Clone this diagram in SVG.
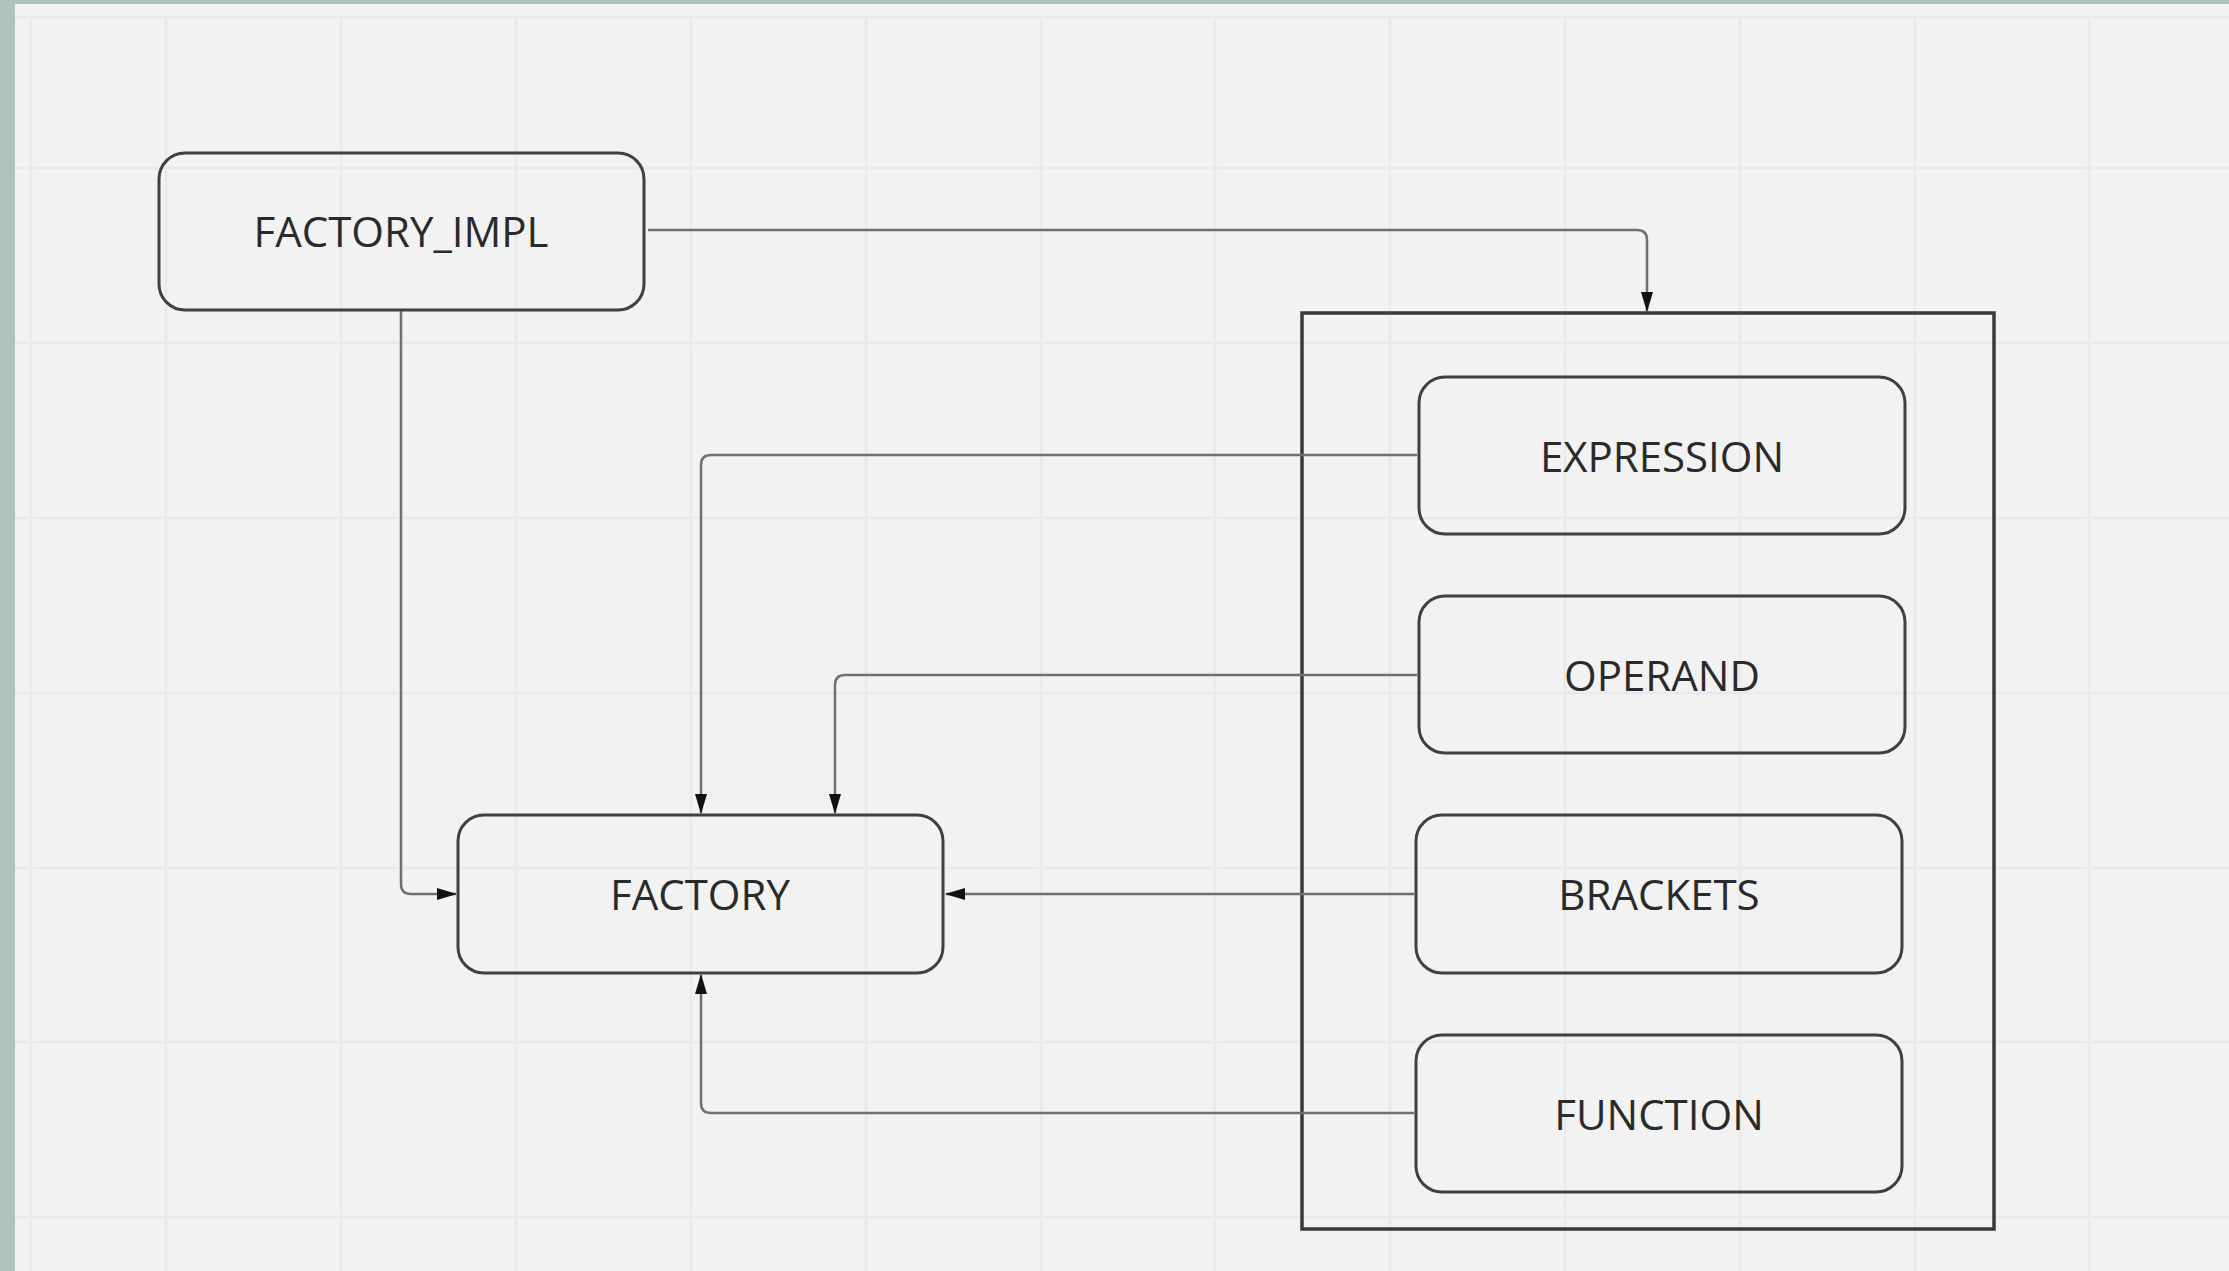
<svg xmlns="http://www.w3.org/2000/svg" width="2229" height="1271" viewBox="0 0 2229 1271">
  <style>
    .grid { stroke: #e9e9e9; stroke-width: 2.5; fill: none; }
    .node { fill: none; stroke: #404040; stroke-width: 3; }
    .frame { fill: none; stroke: #3a3a3a; stroke-width: 3.5; }
    .label { font-family: "Open Sans", "Liberation Sans", sans-serif; font-size: 42px; fill: #2a2a2a; text-anchor: middle; }
    .edge { fill: none; stroke: #707070; stroke-width: 2.5; }
  </style>
  <defs>
    <marker id="arrow" markerWidth="20" markerHeight="12" refX="19" refY="6" orient="auto" markerUnits="userSpaceOnUse">
      <path d="M0,0 L20,6 L0,12 Z" fill="#111"/>
    </marker>
  </defs>

  <!-- canvas -->
  <rect x="0" y="0" width="2229" height="1271" fill="#aec4bf"/>
  <rect x="15" y="4" width="2214" height="1267" fill="#f2f2f2"/>

  <!-- grid -->
  <g id="grid" class="grid">
    <line x1="31" y1="17" x2="31" y2="1271"/>
    <line x1="15" y1="17" x2="2229" y2="17"/>
    <line x1="166" y1="17" x2="166" y2="1271"/>
    <line x1="341" y1="17" x2="341" y2="1271"/>
    <line x1="516" y1="17" x2="516" y2="1271"/>
    <line x1="691" y1="17" x2="691" y2="1271"/>
    <line x1="866" y1="17" x2="866" y2="1271"/>
    <line x1="1041" y1="17" x2="1041" y2="1271"/>
    <line x1="1215" y1="17" x2="1215" y2="1271"/>
    <line x1="1390" y1="17" x2="1390" y2="1271"/>
    <line x1="1565" y1="17" x2="1565" y2="1271"/>
    <line x1="1740" y1="17" x2="1740" y2="1271"/>
    <line x1="1915" y1="17" x2="1915" y2="1271"/>
    <line x1="2089" y1="17" x2="2089" y2="1271"/>
    <line x1="15" y1="168" x2="2229" y2="168"/>
    <line x1="15" y1="343" x2="2229" y2="343"/>
    <line x1="15" y1="518" x2="2229" y2="518"/>
    <line x1="15" y1="693" x2="2229" y2="693"/>
    <line x1="15" y1="868" x2="2229" y2="868"/>
    <line x1="15" y1="1042" x2="2229" y2="1042"/>
    <line x1="15" y1="1217" x2="2229" y2="1217"/>
  </g>

  <!-- container frame -->
  <g id="container">
    <rect class="frame" x="1302" y="313" width="692" height="916"/>
  </g>

  <!-- connectors -->
  <g id="connectors" class="edge">
    <path d="M648,230 H1637 Q1647,230 1647,240 V311" marker-end="url(#arrow)"/>
    <path d="M401,311 V884 Q401,894 411,894 H456" marker-end="url(#arrow)"/>
    <path d="M1417,455 H711 Q701,455 701,465 V813" marker-end="url(#arrow)"/>
    <path d="M1417,675 H845 Q835,675 835,685 V813" marker-end="url(#arrow)"/>
    <path d="M1414,894 H946" marker-end="url(#arrow)"/>
    <path d="M1414,1113 H711 Q701,1113 701,1103 V975" marker-end="url(#arrow)"/>
  </g>

  <!-- nodes -->
  <g id="factory_impl">
    <rect class="node" x="159" y="153" width="485" height="157" rx="26"/>
    <text class="label" x="401" y="247">FACTORY_IMPL</text>
  </g>
  <g id="factory">
    <rect class="node" x="458" y="815" width="485" height="158" rx="26"/>
    <text class="label" x="700" y="910">FACTORY</text>
  </g>
  <g id="expression">
    <rect class="node" x="1419" y="377" width="486" height="157" rx="26"/>
    <text class="label" x="1662" y="472">EXPRESSION</text>
  </g>
  <g id="operand">
    <rect class="node" x="1419" y="596" width="486" height="157" rx="26"/>
    <text class="label" x="1662" y="691">OPERAND</text>
  </g>
  <g id="brackets">
    <rect class="node" x="1416" y="815" width="486" height="158" rx="26"/>
    <text class="label" x="1659" y="910">BRACKETS</text>
  </g>
  <g id="function">
    <rect class="node" x="1416" y="1035" width="486" height="157" rx="26"/>
    <text class="label" x="1659" y="1130">FUNCTION</text>
  </g>
</svg>
